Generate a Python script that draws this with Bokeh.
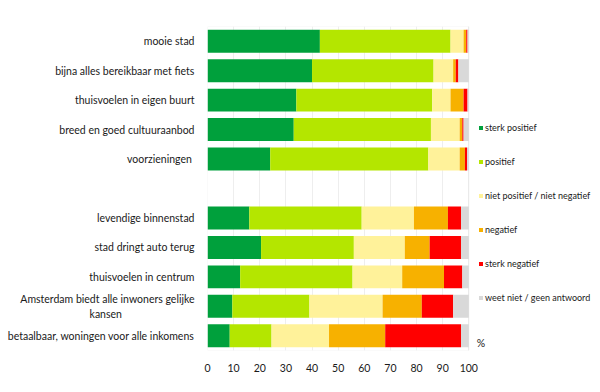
from bokeh.plotting import figure
from bokeh.models import (FactorRange, Range1d, Legend, LegendItem, Label, FixedTicker,
                          ColumnDataSource, BoxAnnotation)
from bokeh.embed import file_html
from bokeh.resources import INLINE

# rows from top to bottom; " " is the empty separator row
rows = ["mooie stad", "bijna alles bereikbaar met fiets", "thuisvoelen in eigen buurt",
        "breed en goed cultuuraanbod", "voorzieningen ", " ",
        "levendige binnenstad", "stad dringt auto terug", "thuisvoelen in centrum",
        "Amsterdam biedt alle inwoners gelijke\nkansen" + "\u00a0" * 27,
        "betaalbaar, woningen voor alle inkomens"]

categories = [r for r in rows if r.strip()]

series_names = ["sterk positief", "positief", "niet positief / niet negatief",
                "negatief", "sterk negatief", "weet niet / geen antwoord"]

sterk_positief = [43, 40, 34, 33, 24, 16, 20.5, 12.5, 9.5, 8.5]
positief       = [50, 46.5, 52, 52.5, 60.5, 43, 35.5, 43, 29.5, 16]
neutraal       = [5, 7.5, 7, 11, 12, 20, 19.5, 19, 28, 22]
negatief       = [1, 1, 5, 1, 2, 13, 9.5, 16, 15, 21.5]
sterk_negatief = [0.5, 1, 1.5, 0.5, 0.8, 5, 12, 7, 12, 29]
weet_niet      = [0.5, 4, 0.5, 2, 0.7, 3, 3, 2.5, 6, 3]

x_ticks = [0, 10, 20, 30, 40, 50, 60, 70, 80, 90, 100]

colors = ["#00A03C", "#B4E600", "#FFF29A", "#F7B100", "#FF0000", "#D9D9D9"]
keys = ["s1", "s2", "s3", "s4", "s5", "s6"]

source = ColumnDataSource(data=dict(cat=categories, s1=sterk_positief, s2=positief, s3=neutraal,
                                    s4=negatief, s5=sterk_negatief, s6=weet_niet))

FONT = "Lato"
TXT = "#1a1a1a"

p = figure(frame_width=392, frame_height=324, x_range=Range1d(0, 150),
           y_range=FactorRange(factors=rows[::-1]),
           output_backend="svg", toolbar_location=None,
           min_border_left=207, min_border_right=1, min_border_top=26, min_border_bottom=40)

renderers = p.hbar_stack(keys, y="cat", height=0.78, color=colors, line_color=None, source=source)

p.outline_line_color = None
p.add_layout(BoxAnnotation(left=0, right=100, fill_alpha=0, line_color="#dcdcdc", line_width=1))

p.xgrid.ticker = FixedTicker(ticks=x_ticks)
p.xgrid.grid_line_color = "#eeeeee"
p.ygrid.grid_line_color = None

p.xaxis.ticker = FixedTicker(ticks=x_ticks)
p.xaxis.axis_line_color = None
p.xaxis.major_tick_line_color = None
p.xaxis.minor_tick_line_color = None
p.xaxis.major_label_standoff = 7
p.xaxis.major_label_text_font = FONT
p.xaxis.major_label_text_font_size = "10.5px"
p.xaxis.major_label_text_color = TXT

p.yaxis.axis_line_color = None
p.yaxis.major_tick_line_color = None
p.yaxis.minor_tick_line_color = None
p.yaxis.major_label_standoff = 7
p.yaxis.major_label_text_font = FONT
p.yaxis.major_label_text_font_size = "10.5px"
p.yaxis.major_label_text_color = TXT

items = [LegendItem(label=n, renderers=[r]) for n, r in zip(series_names, renderers)]
legend = Legend(items=items, location=(271, 46), orientation="vertical",
                border_line_color=None, background_fill_alpha=0,
                padding=0, margin=0, glyph_width=5, glyph_height=5,
                label_height=14, spacing=20, label_standoff=2,
                label_text_font=FONT, label_text_font_size="9px", label_text_color=TXT)
p.add_layout(legend, "center")

p.add_layout(Label(x=100, y=0.27, x_offset=8, text="%", text_font=FONT, text_font_size="10.5px",
                   text_color=TXT, text_baseline="middle"))

open("out.html", "w").write(file_html(p, INLINE))
